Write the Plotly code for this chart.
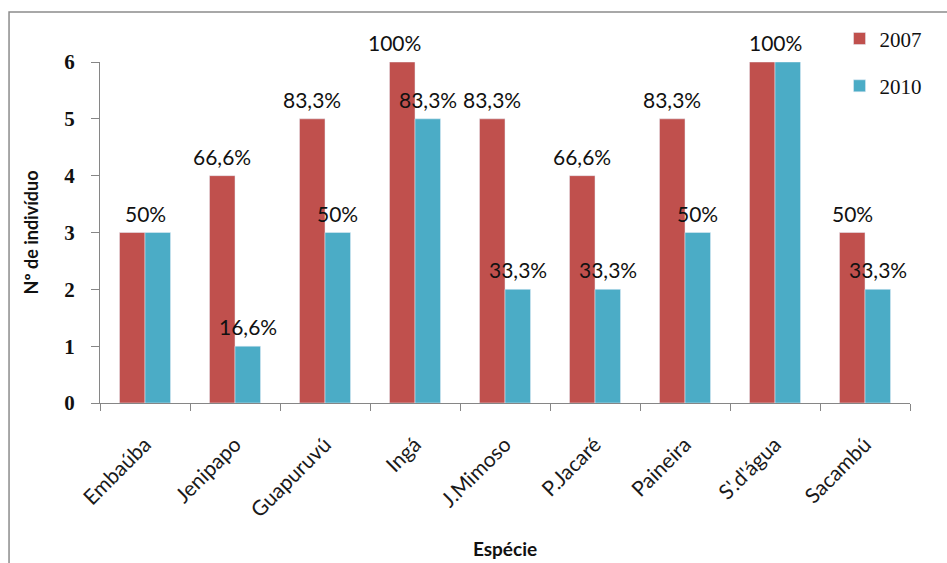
import plotly.graph_objects as go

# ---- data ----
species = ["Embaúba", "Jenipapo", "Guapuruvú", "Ingá", "J.Mimoso",
           "P.Jacaré", "Paineira", "S'.d'água", "Sacambú"]
values_2007 = [3, 4, 5, 6, 5, 4, 5, 6, 3]
values_2010 = [3, 1, 3, 5, 2, 2, 3, 6, 2]
labels_2007 = ["50%", "66,6%", "83,3%", "100%", "83,3%", "66,6%", "83,3%", "100%", "50%"]
labels_2010 = ["", "16,6%", "50%", "83,3%", "33,3%", "33,3%", "50%", "", "33,3%"]

# ---- style ----
RED = "#C0504D"
BLUE = "#4BACC6"
AXIS = "#868686"
SANS = "Lato"
SERIF = "Liberation Serif"
BARGAP = 0.433
half = (1 - BARGAP) / 4  # offset of each bar's centre from group centre (category units)
nudge_2007 = {3: -8}      # small pixel nudges seen in the reference

fig = go.Figure()
fig.add_trace(go.Bar(x=species, y=values_2007, name="2007", marker_color=RED,
                     legendgroup="a"))
fig.add_trace(go.Bar(x=species, y=values_2010, name="2010", marker_color=BLUE,
                     legendgroup="b"))

ann = []
for i, (v7, v10, l7, l10) in enumerate(zip(values_2007, values_2010, labels_2007, labels_2010)):
    if l7:
        centred = (l10 == "" and v7 == v10)
        ann.append(dict(x=i if centred else i - half, y=v7, xref="x", yref="y",
                        text=l7, showarrow=False, yanchor="bottom", yshift=5,
                        xshift=nudge_2007.get(i, 0),
                        font=dict(family=SANS, size=21, color="#111")))
    if l10:
        ann.append(dict(x=i + half, y=v10, xref="x", yref="y",
                        text=l10, showarrow=False, yanchor="bottom", yshift=5,
                        font=dict(family=SANS, size=21, color="#111")))

fig.update_layout(
    width=947, height=563,
    margin=dict(l=100, r=37, t=62, b=160, autoexpand=False),
    paper_bgcolor="white", plot_bgcolor="white",
    barmode="group", bargap=BARGAP, bargroupgap=0,
    annotations=ann,
    legend=dict(x=0.913, y=1.128, xanchor="left", yanchor="top",
                font=dict(family=SERIF, size=21, color="#111"),
                traceorder="grouped", tracegroupgap=17,
                bgcolor="rgba(0,0,0,0)"),
    shapes=[dict(type="rect", xref="paper", yref="paper",
                 x0=-0.1123, x1=1.2, y0=-1.0, y1=1.1466,
                 line=dict(color="#8c8c8c", width=1.5), layer="below")],
)

fig.update_xaxes(
    type="category", tickson="boundaries", ticks="outside", ticklen=7,
    tickcolor=AXIS, showline=True, linecolor=AXIS, linewidth=1,
    tickangle=-45, ticklabelstandoff=20,
    tickfont=dict(family=SANS, size=21, color="#1a1a1a"),
    showgrid=False, automargin=False,
    title=dict(text="<b>Espécie</b>", font=dict(family=SANS, size=19, color="#111"),
               standoff=22),
)
fig.update_yaxes(
    range=[0, 6], dtick=1, ticks="outside", ticklen=8, tickcolor=AXIS,
    showline=True, linecolor=AXIS, linewidth=1, showgrid=False, zeroline=False,
    ticklabelstandoff=12,
    tickfont=dict(family=SERIF, size=21, color="#111", weight="bold"),
    automargin=False,
    title=dict(text="<b>Nº de indivíduo</b>", font=dict(family=SANS, size=18, color="#111"),
               standoff=20),
)

fig.write_html("out.html")
